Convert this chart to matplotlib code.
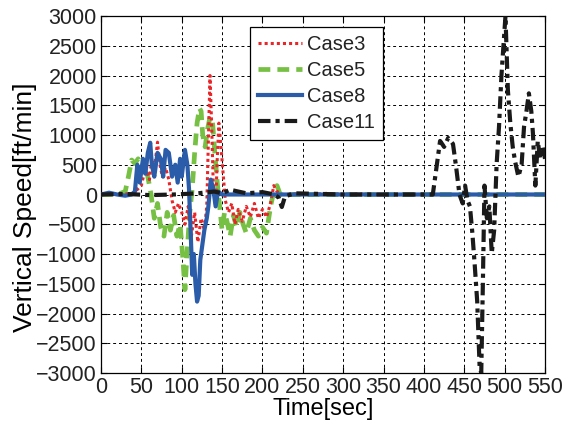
import matplotlib
matplotlib.use("Agg")
import matplotlib.pyplot as plt
import numpy as np

plt.rcParams['font.family'] = ['Liberation Sans', 'DejaVu Sans']
plt.rcParams['text.color'] = '#222222'
plt.rcParams['xtick.labelcolor'] = '#222222'
plt.rcParams['ytick.labelcolor'] = '#222222'

# vertical speed traces [sec, ft/min]
t3 = [0, 20, 40, 50, 55, 60, 63, 66, 70, 73, 76, 80, 84, 88, 92, 96, 100, 104, 108, 112,
      116, 120, 124, 128, 131, 133, 135, 137, 139, 142, 144, 146, 148, 151, 154, 158, 162,
      166, 170, 175, 180, 185, 190, 195, 200, 205, 210, 214, 218, 225, 240, 260, 280, 300,
      320, 340, 360, 400, 450, 500, 550]
v3 = [0, 0, 20, 150, 450, 250, 600, 400, 880, 500, 300, 450, 250, -100, -300, -150, -300,
      -500, -200, -700, -300, -800, -400, -600, -200, 900, 2000, 1200, 200, -200, 600, 1200,
      900, 400, -100, -300, -150, -500, -250, -450, -200, -380, -150, -400, -250, -380,
      -150, 150, 50, 0, 10, 0, 20, 0, 10, 0, 0, 0, 0, 0, 0]

t5 = [0, 20, 30, 34, 38, 42, 46, 50, 54, 58, 62, 66, 70, 74, 78, 82, 86, 90, 94, 98, 101,
      104, 107, 110, 113, 116, 119, 122, 124, 126, 129, 132, 135, 138, 141, 144, 147, 150,
      153, 156, 160, 164, 168, 172, 176, 180, 185, 190, 195, 200, 205, 210, 214, 218, 222,
      230, 260, 300, 350, 400, 450, 500, 550]
v5 = [0, 0, 50, 300, 580, 520, 600, 450, 550, 300, 0, -400, -150, -550, -700, -300, -600,
      -350, -700, -500, -1000, -1600, -900, -300, 100, 700, 1200, 1450, 1400, 1000, 800,
      1100, 1300, 1250, 700, 200, -200, -600, -300, -450, -700, -350, -550, -300, -500,
      -650, -400, -600, -700, -550, -650, -200, 50, 150, 0, 0, 0, 0, 0, 0, 0, 0, 0]

t8 = [0, 10, 20, 30, 38, 42, 45, 48, 52, 55, 58, 61, 63, 66, 70, 74, 77, 80, 84, 88, 92,
      95, 98, 100, 104, 107, 109, 111, 113, 115, 117, 119, 121, 123, 126, 128, 131, 133,
      136, 139, 142, 145, 150, 200, 250, 300, 350, 400, 450, 500, 550]
v8 = [0, 30, 0, -20, 0, 50, 500, 200, 600, 350, 700, 870, 500, 300, 700, 600, 300, 750,
      700, 300, 500, 200, 600, 300, 750, 500, 100, -600, -1350, -1000, -1500, -1800, -1700,
      -1100, -800, -600, -400, -200, 250, 100, -200, 50, 0, 0, 0, 0, 0, 0, 0, 0, 0]

t11 = [0, 30, 60, 90, 120, 140, 150, 160, 180, 200, 215, 220, 224, 228, 240, 300, 350,
       400, 411, 416, 420, 425, 430, 436, 440, 444, 448, 451, 454, 457, 460, 463, 466,
       469, 471, 473, 475, 478, 481, 484, 487, 490, 493, 496, 499, 501, 504, 507, 510,
       513, 517, 521, 524, 527, 530, 533, 535, 538, 541, 544, 547, 550]
v11 = [0, 10, -10, 0, 20, 50, 20, 80, 20, 40, 0, -50, -210, -30, 20, 0, 0, 0, 0, 500, 900,
       800, 950, 850, 450, 0, -150, 150, -100, -200, -650, -1200, -1800, -2900, -3000, -1500,
       150, -400, -200, -990, -600, 500, 1140, 2000, 2600, 3000, 1750, 1200, 800, 550, 300,
       500, 1140, 1400, 1700, 1400, 1030, 150, 900, 600, 800, 600]

labels = ['Case3', 'Case5', 'Case8', 'Case11']

fig = plt.figure(figsize=(5.62, 4.28), dpi=100)
ax = fig.add_axes([0.1797, 0.1285, 0.7901, 0.8341])

ax.plot(t3, v3, color='#e8262a', lw=2.2, ls=(0, (1, 1)), label=labels[0], zorder=3)
ax.plot(t5, v5, color='#76c043', lw=3.4, ls=(0, (2.5, 1.5)), label=labels[1], zorder=2)
ax.plot(t8, v8, color='#2a5caa', lw=3.0, ls='-', label=labels[2], zorder=4)
ax.plot(t11, v11, color='#1a1a1a', lw=3.0, ls=(0, (3, 1.2, 1, 1.2)), label=labels[3], zorder=5)

ax.set_xlim(0, 550)
ax.set_ylim(-3000, 3000)
ax.set_xticks(np.arange(0, 551, 50))
ax.set_yticks(np.arange(-3000, 3001, 500))
ax.tick_params(direction='in', top=True, right=True, labelsize=15.5, length=4, pad=3)
ax.grid(True, color='black', ls=(0, (3, 3)), lw=0.7)
for s in ax.spines.values():
    s.set_linewidth(0.9)

ax.set_xlabel('Time[sec]', fontsize=17, labelpad=0)
ax.set_ylabel('Vertical Speed[ft/min]', fontsize=19)
ax.yaxis.set_label_coords(-0.145, 0.464)

leg = ax.legend(loc='upper left', bbox_to_anchor=(0.336, 0.969), borderaxespad=0,
                fontsize=14.5, handlelength=2.15, handletextpad=0.25, labelspacing=0.35,
                borderpad=0.4, fancybox=False, framealpha=1, edgecolor='black')
leg.get_frame().set_linewidth(0.9)

plt.savefig("out.png", dpi=100)
